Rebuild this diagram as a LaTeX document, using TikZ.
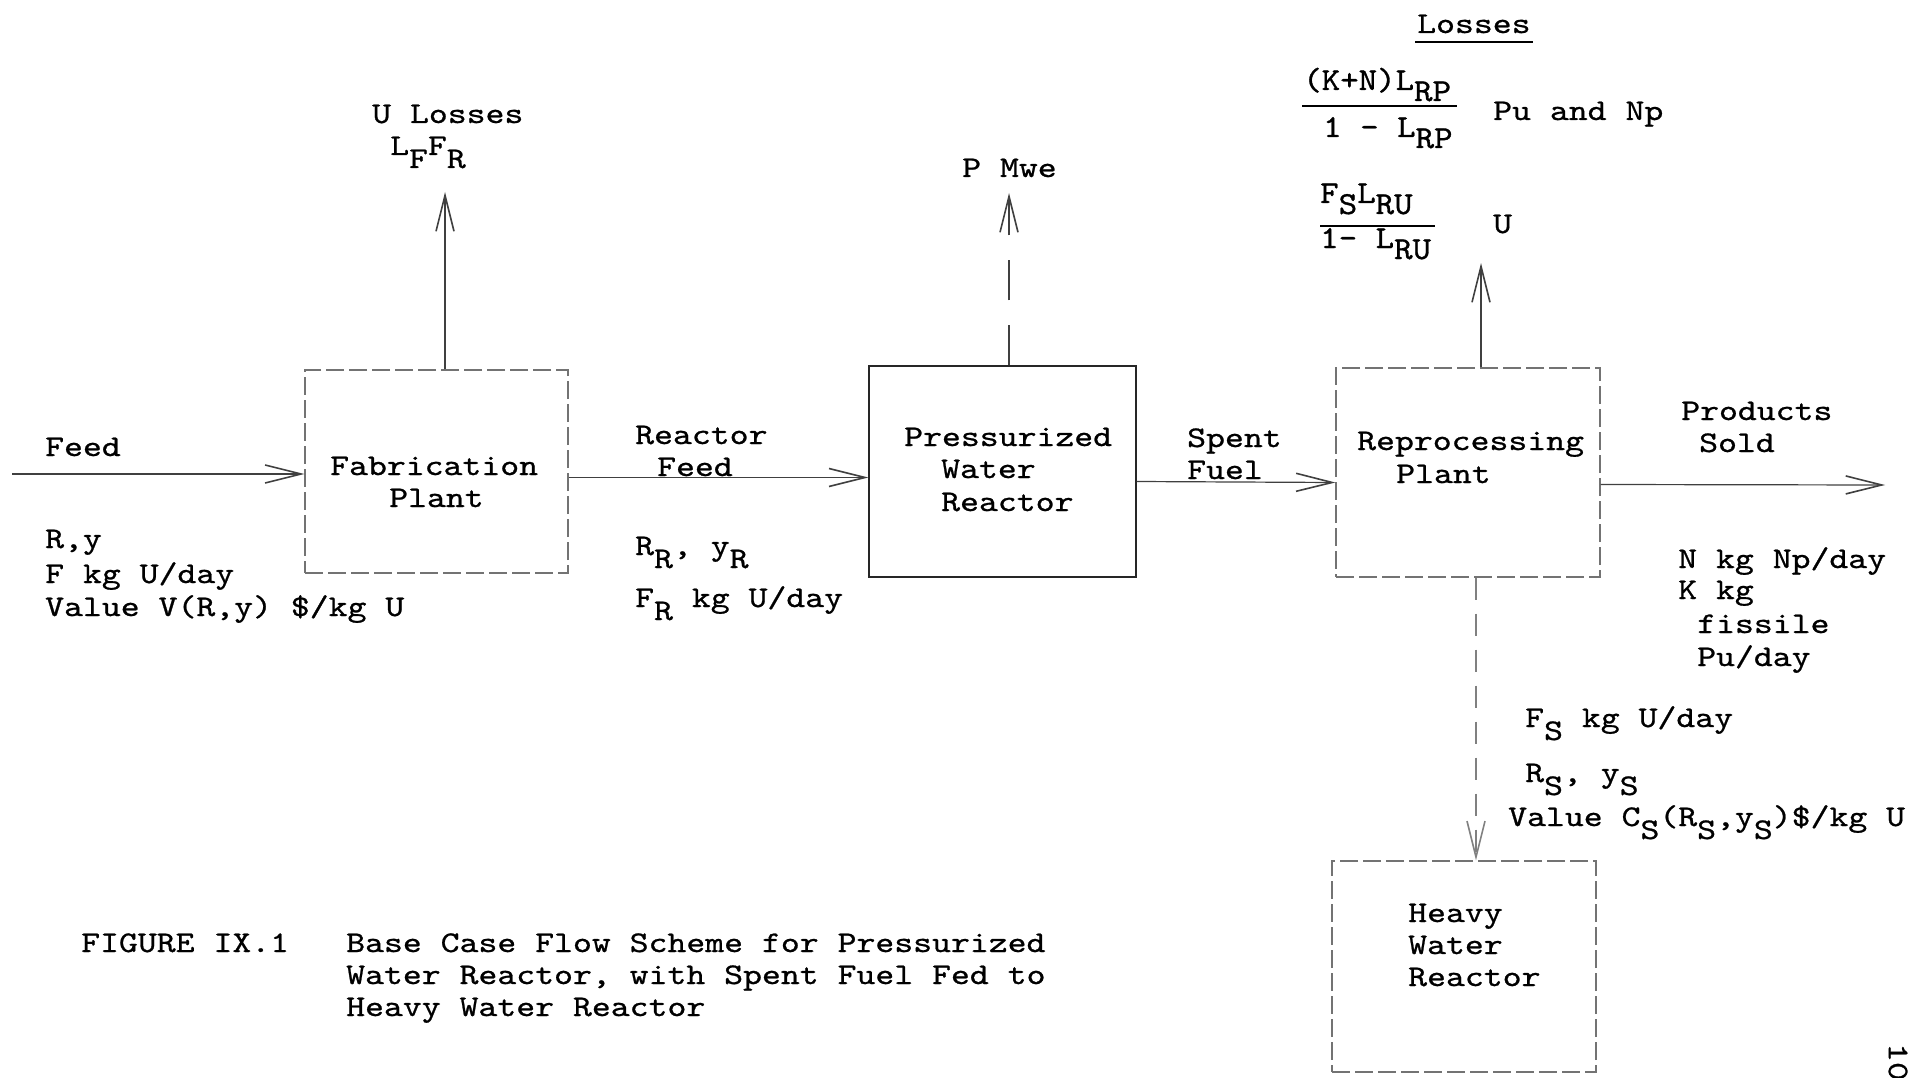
\documentclass[tikz,border=0pt]{standalone}
\usepackage{fontspec}
\newfontfamily\tw{lmmono10-regular.otf}[FakeStretch=1.2,FakeBold=0.8]
\newfontfamily\twf{lmmono10-regular.otf}[FakeStretch=1.1,FakeBold=1]
\usetikzlibrary{arrows.meta,calc}
\newcommand{\lo}[1]{\raisebox{-13pt}{#1}}
\newcommand{\lof}[1]{\raisebox{-11pt}{#1}}
\begin{document}
\begin{tikzpicture}[x=1pt,y=-1pt,
  txt/.style={anchor=base west, inner sep=0pt, font=\tw\fontsize{30}{33}\selectfont},
  fractxt/.style={anchor=base west, inner sep=0pt, font=\twf\fontsize{32}{33}\selectfont},
  plainbox/.style={draw=black!55, line width=1.2pt, dash pattern=on 18pt off 5pt, inner sep=0pt},
  solidbox/.style={draw=black!85, line width=1.4pt, inner sep=0pt},
  arr/.style={draw=black!75, line width=1.2pt, -{Straight Barb[length=36pt,width=18pt,line width=1.6pt]}},
  rulel/.style={draw=black, line width=1.8pt}]
\useasboundingbox (0,0) rectangle (1925,1078);

% boxes
\node[plainbox, minimum width=263pt, minimum height=203pt] (fab) at (436.5,471.5) {};
\node[solidbox, minimum width=267pt, minimum height=211pt] (pwr) at (1002.5,471.5) {};
\node[plainbox, minimum width=264pt, minimum height=209pt] (rep) at (1468,472.5) {};
\node[plainbox, minimum width=264pt, minimum height=211pt] (hwr) at (1464,966.5) {};

% box texts
\node[txt] (fab1) at (330,475) {Fabrication};
\node[txt] (fab2) at (389,507) {Plant};
\node[txt] (pwr1) at (904,446) {Pressurized};
\node[txt] (pwr2) at (941,478) {Water};
\node[txt] (pwr3) at (941,511) {Reactor};
\node[txt] (rep1) at (1357,450) {Reprocessing};
\node[txt] (rep2) at (1396,483) {Plant};
\node[txt] (hwr1) at (1408,922) {Heavy};
\node[txt] (hwr2) at (1408,954) {Water};
\node[txt] (hwr3) at (1408,986) {Reactor};

% coordinates for free ends
\coordinate (feedin) at (12,474);
\coordinate (prodend) at (1885,485);
\coordinate (utip) at (445,192);
\coordinate (ptip) at (1009,193);
\coordinate (rtip) at (1481,263);
\coordinate (dx) at (1476,0);

% connectors
\draw[arr] (feedin) -- (feedin -| fab.west);
\draw[arr] ([yshift=-6pt]fab.east) -- ([yshift=-6pt]pwr.west);
\draw[arr] ([yshift=-10pt]pwr.east) -- ([yshift=-10pt]rep.west);
\draw[arr] ([yshift=-12pt]rep.east) -- (prodend);
\draw[arr] (fab.north -| utip) -- (utip);
\draw[arr, dash pattern=on 40pt off 25pt] (pwr.north -| ptip) -- (ptip);
\draw[arr] (rep.north -| rtip) -- (rtip);
\draw[arr, draw=black!50, dash pattern=on 22pt off 14pt] (rep.south -| dx) -- (hwr.north -| dx);

% stream labels
\node[txt] (feed) at (45,456) {Feed};
\node[txt] (ry) at (45,548) {R,y};
\node[txt] (fkg) at (45,583) {F kg U/day};
\node[txt] (val) at (45,616) {Value V(R,y) \$/kg U};

\node[txt] (rf1) at (635,444) {Reactor};
\node[txt] (rf2) at (657,476) {Feed};
\node[txt] (rr) at (635,555) {R\lo{R}, y\lo{R}};
\node[txt] (fr) at (635,607) {F\lo{R} kg U/day};

\node[txt] (sf1) at (1187,447) {Spent};
\node[txt] (sf2) at (1187,479) {Fuel};

\node[txt] (ps1) at (1681,420) {Products};
\node[txt] (ps2) at (1699,452) {Sold};
\node[txt] (nk1) at (1678,568) {N kg Np/day};
\node[txt] (nk2) at (1678,599) {K kg};
\node[txt] (nk3) at (1697,633) {fissile};
\node[txt] (nk4) at (1697,666) {Pu/day};

\node[txt] (fs) at (1525,727) {F\lo{S} kg U/day};
\node[txt] (rs) at (1525,782) {R\lo{S}, y\lo{S}};
\node[txt] (cs) at (1508,826) {Value C\lo{S}(R\lo{S},y\lo{S})\$/kg U};

% top labels
\node[txt] (ul) at (372,123) {U Losses};
\node[txt] (lf) at (390,155) {L\lo{F}F\lo{R}};
\node[txt] (pm) at (962,177) {P Mwe};

\node[txt] (los) at (1417,33) {Losses};
\draw[rulel] ($(los.base west)+(-2,9)$) -- ($(los.base east)+(2,9)$);

\node[fractxt] (n1) at (1303,90) {(K+N)L\lof{RP}};
\node[fractxt] (d1) at (1323,137) {1 - L\lof{RP}};
\coordinate (f1a) at (1302,106);
\coordinate (f1b) at (1457,106);
\draw[rulel] (f1a) -- (f1b);
\node[txt] (pn) at (1493,120) {Pu and Np};

\node[fractxt] (n2) at (1320,203) {F\lof{S}L\lof{RU}};
\node[fractxt] (d2) at (1320,248) {1- L\lof{RU}};
\coordinate (f2a) at (1320,226);
\coordinate (f2b) at (1435,226);
\draw[rulel] (f2a) -- (f2b);
\node[txt] (uu) at (1493,233) {U};

% caption
\node[txt] (figno) at (81,952) {FIGURE IX.1};
\node[txt] (cap1) at (346,952) {Base Case Flow Scheme for Pressurized};
\node[txt] (cap2) at (346,984) {Water Reactor, with Spent Fuel Fed to};
\node[txt] (cap3) at (346,1016) {Heavy Water Reactor};

% page number
\node[txt, anchor=center, rotate=-90] (pg) at (1898,1062) {10};
\end{tikzpicture}
\end{document}
